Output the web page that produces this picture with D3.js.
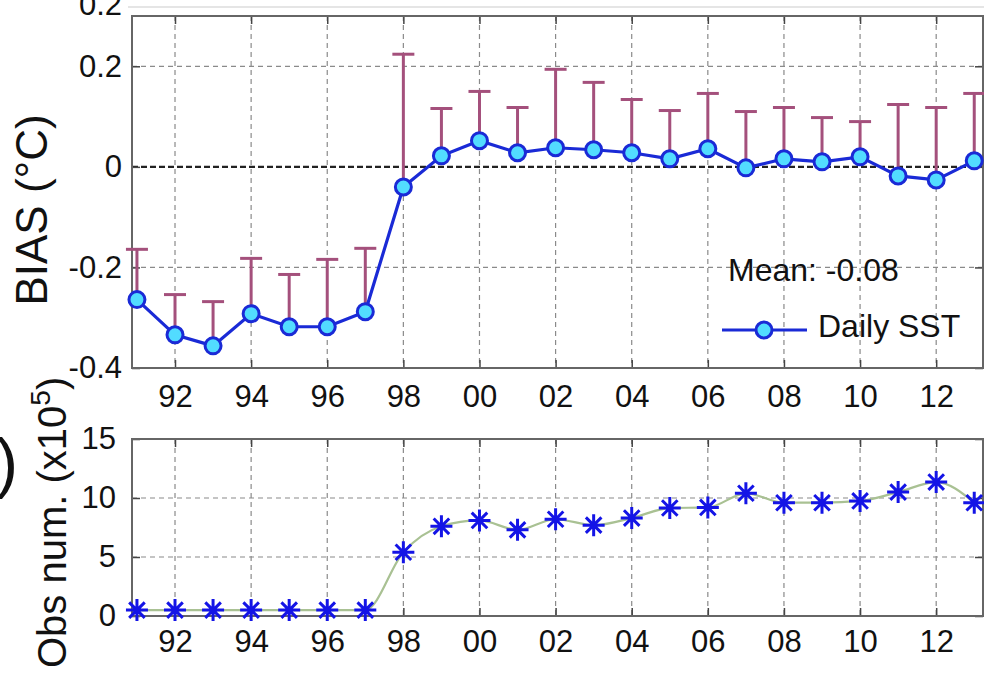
<!DOCTYPE html>
<html>
<head>
<meta charset="utf-8">
<script src="https://cdn.jsdelivr.net/npm/d3@7"></script>
<style>
  body { margin: 0; background: #fff; }
  svg { display: block; font-family: Arial, "Liberation Sans", Helvetica, sans-serif; }
</style>
</head>
<body>
<svg id="chart" width="984" height="674"></svg>
<script>
// yearly values
const years = [1991, 1992, 1993, 1994, 1995, 1996, 1997, 1998, 1999, 2000, 2001, 2002,
  2003, 2004, 2005, 2006, 2007, 2008, 2009, 2010, 2011, 2012, 2013];
const biasMean = [-0.264, -0.334, -0.356, -0.292, -0.318, -0.318, -0.288, -0.04, 0.022, 0.052,
  0.028, 0.038, 0.034, 0.028, 0.016, 0.036, -0.002, 0.016, 0.01, 0.02, -0.018, -0.026, 0.012];
const biasUpper = [-0.164, -0.254, -0.268, -0.182, -0.214, -0.184, -0.162, 0.224, 0.116, 0.15,
  0.118, 0.194, 0.168, 0.134, 0.112, 0.146, 0.11, 0.118, 0.098, 0.09, 0.124, 0.118, 0.146];
const obsNum = [0.5, 0.5, 0.5, 0.5, 0.5, 0.5, 0.5, 5.4, 7.6, 8.1, 7.3, 8.2, 7.7, 8.3, 9.15,
  9.2, 10.4, 9.6, 9.6, 9.75, 10.5, 11.35, 9.6];
const xTickYears = [1992, 1994, 1996, 1998, 2000, 2002, 2004, 2006, 2008, 2010, 2012];
const biasTicks = [-0.4, -0.2, 0, 0.2];
const obsTicks = [0, 5, 10, 15];
const meanLabel = 'Mean: -0.08';
const seriesName = 'Daily SST';

const svg = d3.select('#chart');
const left = 132, right = 983;
const fontSize = 31;

const x = d3.scaleLinear().domain([1990.87, 2013.23]).range([left, right]);
const yBias = d3.scaleLinear().domain([-0.4, 0.3]).range([368, 16]);
const yObs = d3.scaleLinear().domain([0, 15]).range([616, 439]);

const yearFmt = (d) => String(d % 100).padStart(2, '0');

// faint line and cut label left from the panel above
svg.append('line')
  .attr('x1', 128).attr('x2', 984).attr('y1', 7).attr('y2', 7)
  .attr('stroke', '#ddd').attr('stroke-width', 1.5);
svg.append('text')
  .attr('x', 122).attr('y', 15)
  .attr('text-anchor', 'end')
  .attr('font-size', fontSize).attr('fill', '#111')
  .text('0.2');

// big ")" from the panel letter, cut by the left edge
svg.append('text')
  .attr('x', -4).attr('y', 485)
  .attr('font-size', 66).attr('fill', '#111')
  .text(')');

/**
 * Draws the frame, grid and axes of one panel.
 */
function drawFrame(y, ticks, yFormat, xPad, yPad) {
  const g = svg.append('g');
  const [bottom, top] = y.range();

  // grid
  g.selectAll('line.vgrid')
    .data(xTickYears)
    .enter()
    .append('line')
    .attr('x1', (d) => x(d)).attr('x2', (d) => x(d))
    .attr('y1', top).attr('y2', bottom)
    .attr('stroke', '#8a8a8a').attr('stroke-width', 1.2)
    .attr('stroke-dasharray', '5,4');
  g.selectAll('line.hgrid')
    .data(ticks.filter((t) => t !== y.domain()[0]))
    .enter()
    .append('line')
    .attr('x1', left).attr('x2', right)
    .attr('y1', (d) => y(d)).attr('y2', (d) => y(d))
    .attr('stroke', (d) => (d === 0 ? '#222' : '#8a8a8a'))
    .attr('stroke-width', (d) => (d === 0 ? 2.2 : 1.2))
    .attr('stroke-dasharray', (d) => (d === 0 ? '6,3' : '5,4'));

  const style = (sel, labels) => {
    sel.select('.domain').remove();
    sel.selectAll('.tick line').attr('stroke', '#444').attr('stroke-width', 1.5);
    sel.attr('font-size', fontSize).attr('font-family', null);
    sel.selectAll('.tick text').attr('fill', '#111');
    if (!labels) sel.selectAll('.tick text').remove();
  };

  g.append('g')
    .attr('transform', 'translate(0,' + bottom + ')')
    .call(d3.axisBottom(x).tickValues(xTickYears).tickFormat(yearFmt).tickSize(-8).tickPadding(xPad))
    .call((s) => style(s, true));
  g.append('g')
    .attr('transform', 'translate(0,' + top + ')')
    .call(d3.axisTop(x).tickValues(xTickYears).tickSize(-8))
    .call((s) => style(s, false));
  g.append('g')
    .attr('transform', 'translate(' + left + ',0)')
    .call(d3.axisLeft(y).tickValues(ticks).tickFormat(yFormat).tickSize(-8).tickPadding(yPad))
    .call((s) => style(s, true));
  g.append('g')
    .attr('transform', 'translate(' + right + ',0)')
    .call(d3.axisRight(y).tickValues(ticks).tickSize(-8))
    .call((s) => style(s, false));

  g.append('rect')
    .attr('x', left).attr('y', top)
    .attr('width', right - left).attr('height', bottom - top)
    .attr('fill', 'none').attr('stroke', '#666').attr('stroke-width', 2);
}

drawFrame(yBias, biasTicks, (d) => String(d), 17, 10);
drawFrame(yObs, obsTicks, (d) => String(d), 14, 16);

// ---- top panel: bias with upper error bars ----
const errColor = '#a4507c';
const errG = svg.append('g');
years.forEach((yr, i) => {
  errG.append('line')
    .attr('x1', x(yr)).attr('x2', x(yr))
    .attr('y1', yBias(biasMean[i])).attr('y2', yBias(biasUpper[i]))
    .attr('stroke', errColor).attr('stroke-width', 3);
  errG.append('line')
    .attr('x1', x(yr) - 11).attr('x2', x(yr) + 11)
    .attr('y1', yBias(biasUpper[i])).attr('y2', yBias(biasUpper[i]))
    .attr('stroke', errColor).attr('stroke-width', 3);
});

const biasLine = d3.line()
  .x((d, i) => x(years[i]))
  .y((d) => yBias(d));

svg.append('path')
  .datum(biasMean)
  .attr('d', biasLine)
  .attr('fill', 'none')
  .attr('stroke', '#1a2ad6')
  .attr('stroke-width', 3.2);

svg.append('g')
  .selectAll('circle')
  .data(biasMean)
  .enter()
  .append('circle')
  .attr('cx', (d, i) => x(years[i]))
  .attr('cy', (d) => yBias(d))
  .attr('r', 8)
  .attr('fill', '#52dcff')
  .attr('stroke', '#1a2ad6')
  .attr('stroke-width', 3);

// mean text and legend
svg.append('text')
  .attr('x', 728).attr('y', 281)
  .attr('font-size', 32).attr('fill', '#111')
  .text(meanLabel);
svg.append('line')
  .attr('x1', 722).attr('x2', 807).attr('y1', 330).attr('y2', 330)
  .attr('stroke', '#1a2ad6').attr('stroke-width', 3.2);
svg.append('circle')
  .attr('cx', 764).attr('cy', 330).attr('r', 8)
  .attr('fill', '#52dcff').attr('stroke', '#1a2ad6').attr('stroke-width', 3);
svg.append('text')
  .attr('x', 818).attr('y', 337)
  .attr('font-size', 32).attr('fill', '#111')
  .text(seriesName);

// ---- bottom panel: observation numbers ----
const obsLine = d3.line()
  .x((d, i) => x(years[i]))
  .y((d) => yObs(d))
  .curve(d3.curveMonotoneX);

svg.append('path')
  .datum(obsNum)
  .attr('d', obsLine)
  .attr('fill', 'none')
  .attr('stroke', '#a9c193')
  .attr('stroke-width', 2.2);

const star = (r) => {
  const a = r * Math.SQRT1_2;
  return 'M' + -r + ',0L' + r + ',0M0,' + -r + 'L0,' + r +
    'M' + -a + ',' + -a + 'L' + a + ',' + a + 'M' + -a + ',' + a + 'L' + a + ',' + -a;
};

svg.append('g')
  .selectAll('path')
  .data(obsNum)
  .enter()
  .append('path')
  .attr('transform', (d, i) => 'translate(' + x(years[i]) + ',' + yObs(d) + ')')
  .attr('d', star(11))
  .attr('fill', 'none')
  .attr('stroke', '#1414e6')
  .attr('stroke-width', 3);

// ---- y axis titles ----
svg.append('text')
  .attr('transform', 'translate(47,210) rotate(-90)')
  .attr('text-anchor', 'middle')
  .attr('font-size', 44).attr('fill', '#111')
  .text('BIAS (°C)');

const obsTitle = svg.append('text')
  .attr('transform', 'translate(66,668) rotate(-90)')
  .attr('font-size', 40).attr('fill', '#111');
obsTitle.append('tspan').text('Obs num. (x10');
obsTitle.append('tspan').attr('font-size', 28).attr('dy', -16).text('5');
obsTitle.append('tspan').attr('dy', 16).text(')');
</script>
</body>
</html>
